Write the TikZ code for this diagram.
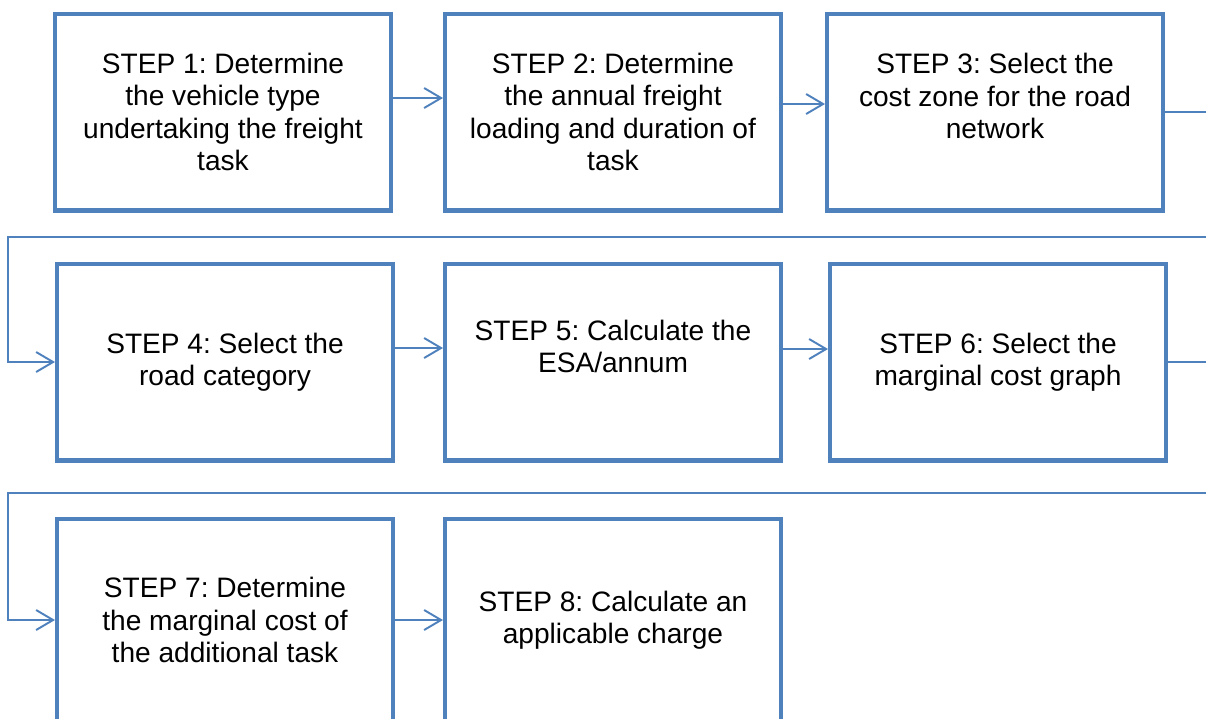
\documentclass[tikz,border=0pt]{standalone}
\usepackage{fontspec}
\setmainfont{Liberation Sans}
\usetikzlibrary{arrows.meta}
\definecolor{stepblue}{RGB}{79,129,189}
\frenchspacing

\begin{document}
\begin{tikzpicture}[x=0.02cm, y=-0.02cm,
    stepbox/.style ={rectangle, draw=stepblue, line width=2.3pt, inner sep=0pt,
      minimum width=6.72cm, minimum height=3.94cm, align=center,
      font=\fontsize{16pt}{18.3pt}\selectfont},
    conn/.style ={draw=stepblue, line width=1.1pt,
      -{Straight Barb[length=0.34cm, width=0.4cm, line width=1.1pt]}}]
   \path[use as bounding box, clip] (0,0) rectangle (1206,718);

   \node[stepbox] (s1) at (223,112) {STEP 1: Determine\\the vehicle type\\undertaking the freight\\task};
   \node[stepbox] (s2) at (613,112) {STEP 2: Determine\\the annual freight\\loading and duration of\\task};
   \node[stepbox] (s3) at (995,112) {STEP 3: Select the\\cost zone for the road\\network\\ ~};
   \node[stepbox] (s4) at (225,362) {STEP 4: Select the\\road category};
   \node[stepbox] (s5) at (613,362) {STEP 5: Calculate the\\ESA/annum\\ ~};
   \node[stepbox] (s6) at (998,362) {STEP 6: Select the\\marginal cost graph};
   \node[stepbox, minimum height=4.04cm] (s7) at (225,620) {STEP 7: Determine\\the marginal cost of\\the additional task};
   \node[stepbox, minimum height=4.04cm] (s8) at (613,620) {STEP 8: Calculate an\\applicable charge};

   \coordinate (r1) at (1220,237);
   \coordinate (l1) at (8,237);
   \coordinate (r2) at (1220,493);
   \coordinate (l2) at (8,493);

   \draw[conn] ([yshift=0.28cm]s1.east) to  ([yshift=0.28cm]s1.east -| s2.west);
   \draw[conn] ([yshift=0.16cm]s2.east) to  ([yshift=0.16cm]s2.east -| s3.west);
   \draw[conn] (s3.east) -| (r1) -- (l1) |- (s4.west);
   \draw[conn] ([yshift=0.28cm]s4.east) to  ([yshift=0.28cm]s4.east -| s5.west);
   \draw[conn] ([yshift=0.26cm]s5.east) to  ([yshift=0.26cm]s5.east -| s6.west);
   \draw[conn] (s6.east) -| (r2) -- (l2) |- (s7.west);
   \draw[conn] (s7.east) to  (s8.west);
 \end{tikzpicture}
\end{document}
